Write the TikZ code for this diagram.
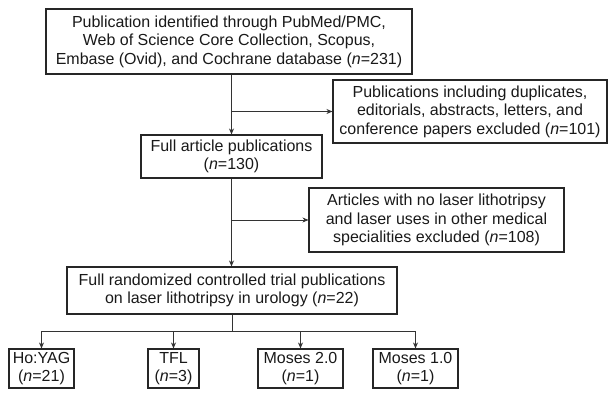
\documentclass[tikz,border=0pt]{standalone}
\usepackage{fontspec}
\setmainfont{Liberation Sans}
\usetikzlibrary{arrows.meta}
\begin{document}
\begin{tikzpicture}[x=1pt,y=-1pt,
  box/.style={draw=black!85, line width=1.1pt, align=center, inner sep=0pt,
    font=\fontsize{16}{18.5}\selectfont, text=black!90},
  link/.style={draw=black!80, line width=0.8pt},
  arr/.style={link, -{Stealth[length=6pt,width=5pt]}}]
\useasboundingbox (0,0) rectangle (608,393);

% screening stages
\node[box, minimum width=366pt, minimum height=65pt] (ident) at (229,41.5)
  {Publication identified through PubMed/PMC,\\
   Web of Science Core Collection, Scopus,\\
   Embase (Ovid), and Cochrane database (\textit{n}=231)};
\node[box, minimum width=274pt, minimum height=63pt] (excl1) at (470,111.5)
  {Publications including duplicates,\\
   editorials, abstracts, letters, and\\
   conference papers excluded (\textit{n}=101)};
\node[box, minimum width=181pt, minimum height=43pt] (full) at (231.5,156.5)
  {Full article publications\\(\textit{n}=130)};
\node[box, minimum width=255pt, minimum height=64pt] (excl2) at (436.5,220)
  {Articles with no laser lithotripsy\\
   and laser uses in other medical\\
   specialities excluded (\textit{n}=108)};
\node[box, minimum width=330pt, minimum height=47pt] (rct) at (232,290.5)
  {Full randomized controlled trial publications\\
   on laser lithotripsy in urology (\textit{n}=22)};

% laser types
\node[box, minimum width=65pt, minimum height=39pt] (ho) at (41.5,368.5)
  {Ho:YAG\\(\textit{n}=21)};
\node[box, minimum width=51pt, minimum height=39pt] (tfl) at (173.5,368.5)
  {TFL\\(\textit{n}=3)};
\node[box, minimum width=85pt, minimum height=39pt] (mtwo) at (300.5,368.5)
  {Moses 2.0\\(\textit{n}=1)};
\node[box, minimum width=85pt, minimum height=39pt] (mone) at (415.5,368.5)
  {Moses 1.0\\(\textit{n}=1)};

% main flow
\draw[arr] (full.north |- ident.south) -- (full.north);
\draw[arr] (full.north |- excl1.west) -- (excl1.west);
\draw[arr] (full.south) -- (full.south |- rct.north);
\draw[arr] (full.south |- excl2.west) -- (excl2.west);

% split into laser types
\coordinate (split) at (232,331);
\draw[link] (rct.south) -- (split);
\draw[link] (ho.north |- split) -- (mone.north |- split);
\foreach \b in {ho,tfl,mtwo,mone}
  \draw[arr] (\b.north |- split) -- (\b.north);
\end{tikzpicture}
\end{document}
